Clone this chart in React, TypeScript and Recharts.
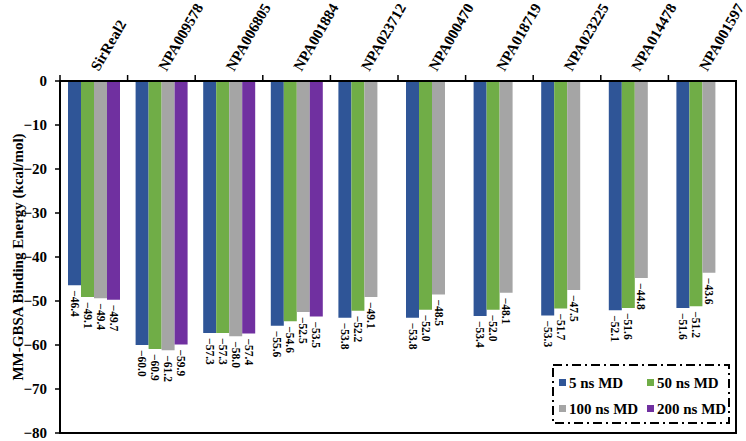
import React from 'react';
import { BarChart, Bar, XAxis, YAxis, LabelList, ReferenceArea } from 'recharts';

const categories = ['SirReal2', 'NPA009578', 'NPA006805', 'NPA001884', 'NPA023712', 'NPA000470', 'NPA018719', 'NPA023225', 'NPA014478', 'NPA001597'];
const md5 = [-46.4, -60.0, -57.3, -55.6, -53.8, -53.8, -53.4, -53.3, -52.1, -51.6];
const md50 = [-49.1, -60.9, -57.3, -54.6, -52.2, -52.0, -52.0, -51.7, -51.6, -51.2];
const md100 = [-49.4, -61.2, -58.0, -52.5, -49.1, -48.5, -48.1, -47.5, -44.8, -43.6];
const md200: (number | null)[] = [-49.7, -59.9, -57.4, -53.5, null, null, null, null, null, null];
const yTicks = [0, -10, -20, -30, -40, -50, -60, -70, -80];

const seriesNames = ['5 ns MD', '50 ns MD', '100 ns MD', '200 ns MD'];
const colors = ['#2F5597', '#70AD47', '#A5A5A5', '#7030A0'];
const keys = ['m5', 'm50', 'm100', 'm200'];

const data = categories.map((c, i) => ({ name: c, m5: md5[i], m50: md50[i], m100: md100[i], m200: md200[i] }));

const FONT = '"Liberation Serif", "Times New Roman", serif';
const fmt = (v: number) => v.toFixed(1).replace('-', '\u2212');

const CatTick = (props: any) => {
  const { x, y, payload } = props;
  const off = payload.offset || 0;
  const tx = x + 5;
  const ty = y - 9;
  return (
    <g>
      <line x1={x - off} y1={y} x2={x - off} y2={y - 6} stroke="#000" strokeWidth={1.5} />
      <g transform={`translate(${tx}, ${ty}) rotate(-60)`}>
        <text x={0} y={0} textAnchor="start" fontFamily={FONT} fontWeight="bold" fontSize={15} fill="#000">
          {payload.value}
        </text>
      </g>
    </g>
  );
};

const BarLabel = (props: any) => {
  const { x, y, width, height, value } = props;
  if (value === null || value === undefined) return null;
  const bottom = Math.max(y, y + height);
  const cx = x + width / 2;
  const ty = bottom + 5;
  return (
    <g transform={`translate(${cx}, ${ty}) rotate(90)`}>
      <text x={0} y={0} textAnchor="start" dominantBaseline="central" fontFamily={FONT} fontWeight="bold" fontSize={11.5} fill="#000">
        {fmt(value)}
      </text>
    </g>
  );
};

const LegendBox = () => {
  const w = 176;
  const h = 58;
  return (
    <svg width={w + 4} height={h + 4} style={{ position: 'absolute', left: 552, top: 364, overflow: 'visible' }}>
      <rect x={1} y={1} width={w} height={h} fill="#fff" stroke="#000" strokeWidth={2} strokeDasharray="9,4,2,4" />
      {seriesNames.map((n, i) => {
        const col = i % 2;
        const row = Math.floor(i / 2);
        const bx = 7 + col * 88;
        const by = 19 + row * 26;
        return (
          <g key={n}>
            <rect x={bx} y={by - 4} width={7} height={7} fill={colors[i]} />
            <text x={bx + 10} y={by} dominantBaseline="central" fontFamily={FONT} fontWeight="bold" fontSize={15} fill="#000">
              {n}
            </text>
          </g>
        );
      })}
    </svg>
  );
};

const YTitle = (props: any) => {
  const vb = props.viewBox || {};
  const cx = vb.x + 18;
  const cy = vb.y + vb.height / 2;
  return (
    <g transform={`translate(${cx}, ${cy}) rotate(-90)`}>
      <text x={0} y={0} textAnchor="middle" dominantBaseline="central" fontFamily={FONT} fontWeight="bold" fontSize={15} fill="#000">
        MM-GBSA Binding Energy (kcal/mol)
      </text>
    </g>
  );
};

export default function App() {
  return (
    <div style={{ position: 'absolute', left: 0, top: 0, width: 746, height: 441, background: '#fff' }}>
      <BarChart
        width={746}
        height={441}
        data={data}
        margin={{ top: 6, right: 10, bottom: 8, left: 0 }}
        barSize={13}
        barGap={0}
      >
        <ReferenceArea
          x1={categories[0]}
          x2={categories[categories.length - 1]}
          y1={-80}
          y2={0}
          fill="none"
          stroke="#000"
          strokeWidth={2}
          ifOverflow="visible"
        />
        <XAxis
          dataKey="name"
          orientation="top"
          height={75}
          axisLine={{ stroke: '#000', strokeWidth: 2 }}
          tickLine={false}
          tickSize={0}
          tickMargin={0}
          tick={<CatTick />}
          interval={0}
        />
        <YAxis
          domain={[-80, 0]}
          ticks={yTicks}
          interval={0}
          width={60}
          axisLine={{ stroke: '#000', strokeWidth: 2 }}
          tickLine={{ stroke: '#000', strokeWidth: 1.5 }}
          tickSize={5}
          tickMargin={8}
          tickFormatter={(v: number) => String(v).replace('-', '\u2212')}
          tick={{ fontFamily: FONT, fontWeight: 'bold', fontSize: 15, fill: '#000' }}
          label={{ content: <YTitle /> }}
        />
        {keys.map((k, i) => (
          <Bar key={k} dataKey={k} name={seriesNames[i]} fill={colors[i]} isAnimationActive={false}>
            <LabelList dataKey={k} content={<BarLabel />} />
          </Bar>
        ))}
      </BarChart>
      <LegendBox />
    </div>
  );
}
